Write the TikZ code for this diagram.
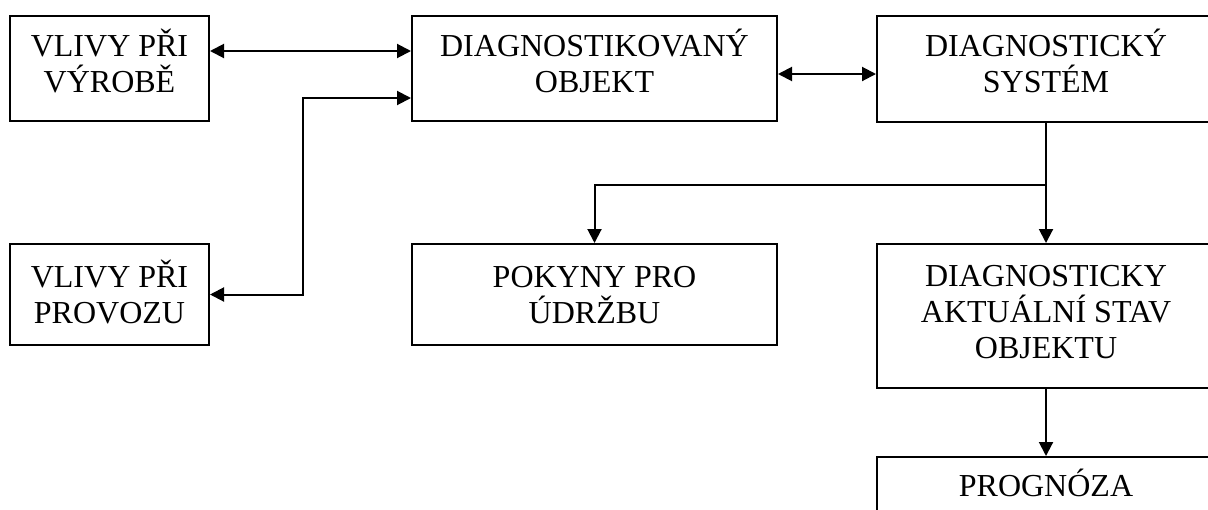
\documentclass[tikz,border=0pt]{standalone}
\usepackage{fontspec}
\setmainfont{Liberation Serif}
\usetikzlibrary{arrows.meta}

\begin{document}
\begin{tikzpicture}[x=0.5pt, y=-0.5pt,
	box/.style={rectangle, draw, line width=1pt, align=center, anchor=north, inner sep=0pt, font=\fontsize{16}{18}\selectfont},
	arr/.style={line width=1pt, -{Triangle[length=7pt, width=7pt]}},
	biarr/.style={line width=1pt, {Triangle[length=7pt, width=7pt]}-{Triangle[length=7pt, width=7pt]}}]
				\clip (0,0) rectangle (1208,509);
				\fill[white] (0,0) rectangle (1208,509);

				% Top row
				\node[box, minimum width=99.5pt, text height=38pt, text depth=14.5pt] (vyroba) at (109.5,15) {VLIVY PŘI\\VÝROBĚ};
				\node[box, minimum width=182.5pt, text height=38pt, text depth=14.5pt] (objekt) at (594.5,15) {DIAGNOSTIKOVANÝ\\OBJEKT};
				\node[box, minimum width=169pt, text height=38pt, text depth=15pt] (system) at (1046,15) {DIAGNOSTICKÝ\\SYSTÉM};

				% Middle row
				\node[box, minimum width=99.5pt, text height=39.5pt, text depth=11pt] (provoz) at (109.5,243) {VLIVY PŘI\\PROVOZU};
				\node[box, minimum width=182.5pt, text height=39.5pt, text depth=11pt] (udrzba) at (594.5,243) {POKYNY PRO\\ÚDRŽBU};
				\node[box, minimum width=169pt, text height=57pt, text depth=15pt] (stav) at (1046,243) {DIAGNOSTICKY\\AKTUÁLNÍ STAV\\OBJEKTU};

				% Bottom
				\node[box, minimum width=169pt, text height=19.5pt, text depth=20pt] (prognoza) at (1046,456) {PROGNÓZA};

				% Connectors
				\draw[biarr] ([yshift=8.75pt]vyroba.east) -- ([yshift=8.75pt]objekt.west);
				\draw[biarr] ([yshift=-2.75pt]objekt.east) -- ([yshift=-2.75pt]objekt.east -| system.west);
				\coordinate (ohyb) at (303,0);
				\draw[biarr] ([yshift=-14.75pt]objekt.west) -| (ohyb |- provoz.east) -- (provoz.east);
				\draw[arr] (system.south) -- (stav.north);
				\coordinate (vetev) at (1046,185);
				\draw[arr] (vetev) -| (udrzba.north);
				\draw[arr] (stav.south) -- (prognoza.north);
\end{tikzpicture}
\end{document}
